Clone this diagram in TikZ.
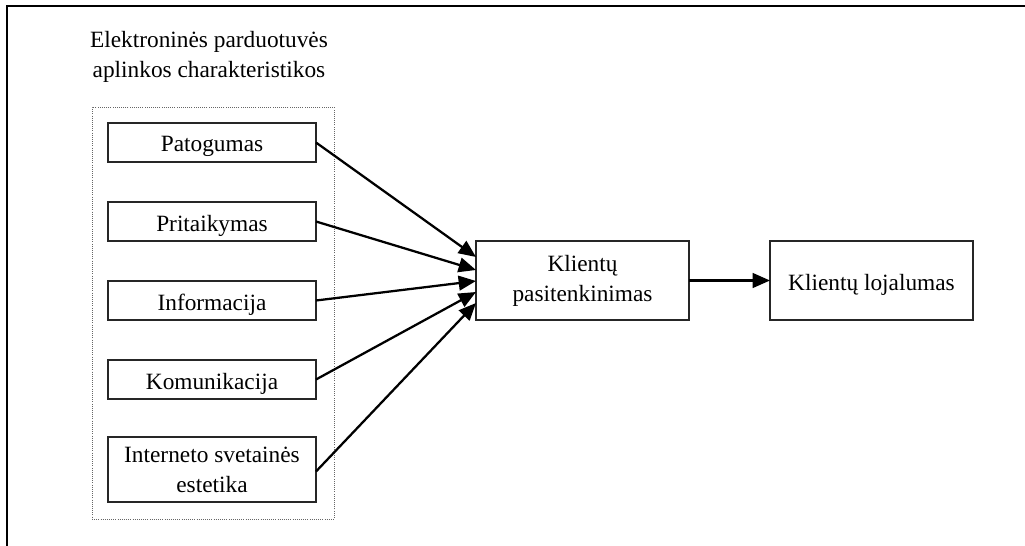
\documentclass[tikz,border=0pt]{standalone}
\usepackage{fontspec}
\setmainfont{Liberation Serif}
\usetikzlibrary{arrows.meta,calc}
\newcommand{\dn}[1]{\raisebox{-3pt}[\height][\depth]{#1}}
\begin{document}
\begin{tikzpicture}[x=0.75pt,y=-0.75pt,
  font=\fontsize{17.5}{22.5}\selectfont,
  box/.style={draw=black!85,line width=1pt,inner sep=0pt,outer sep=0pt,align=center,minimum width=208*0.75pt,minimum height=39*0.75pt},
  arr/.style={line width=1.7pt,-{Triangle[length=13pt,width=11pt]}},
  grpbox/.style={draw=black!60,densely dotted,line width=0.6pt,inner sep=0pt,minimum width=242*0.75pt,minimum height=412*0.75pt}]
\useasboundingbox (0,0) rectangle (1025,546);
\draw[line width=1.2pt] (1025,6) -- (7,6) -- (7,546);
\node[align=center] (title) at (209,57) {Elektroninės parduotuvės\\aplinkos charakteristikos};
\node[grpbox] (grp) at (213,313) {};
\node[box] (pat) at (212,142.5) {\dn{Patogumas}};
\node[box] (pri) at (212,221.5) {\dn{Pritaikymas}};
\node[box] (inf) at (212,300.5) {\dn{Informacija}};
\node[box] (kom) at (212,379.5) {\dn{Komunikacija}};
\node[box,minimum height=65*0.75pt] (int) at (212,469.5) {Interneto svetainės\\estetika};
\node[box,minimum width=213*0.75pt,minimum height=79*0.75pt] (kp) at (582.5,280.5) {Klientų\\pasitenkinimas};
\node[box,minimum width=203*0.75pt,minimum height=79*0.75pt] (kl) at (871.5,280.5) {\dn{Klientų lojalumas}};
\coordinate (e1) at ($(kp.west)+(0,-23.5)$);
\coordinate (e2) at ($(kp.west)+(0,-10.5)$);
\coordinate (e3) at ($(kp.west)+(0,0.5)$);
\coordinate (e4) at ($(kp.west)+(0,11.5)$);
\coordinate (e5) at ($(kp.west)+(0,22.5)$);
\draw[arr] (pat.east) -- (e1);
\draw[arr] (pri.east) -- (e2);
\draw[arr] (inf.east) -- (e3);
\draw[arr] (kom.east) -- (e4);
\draw[arr] ($(int.east)+(0,2)$) -- (e5);
\draw[arr] (kp.east) -- (kl.west);
\end{tikzpicture}
\end{document}
